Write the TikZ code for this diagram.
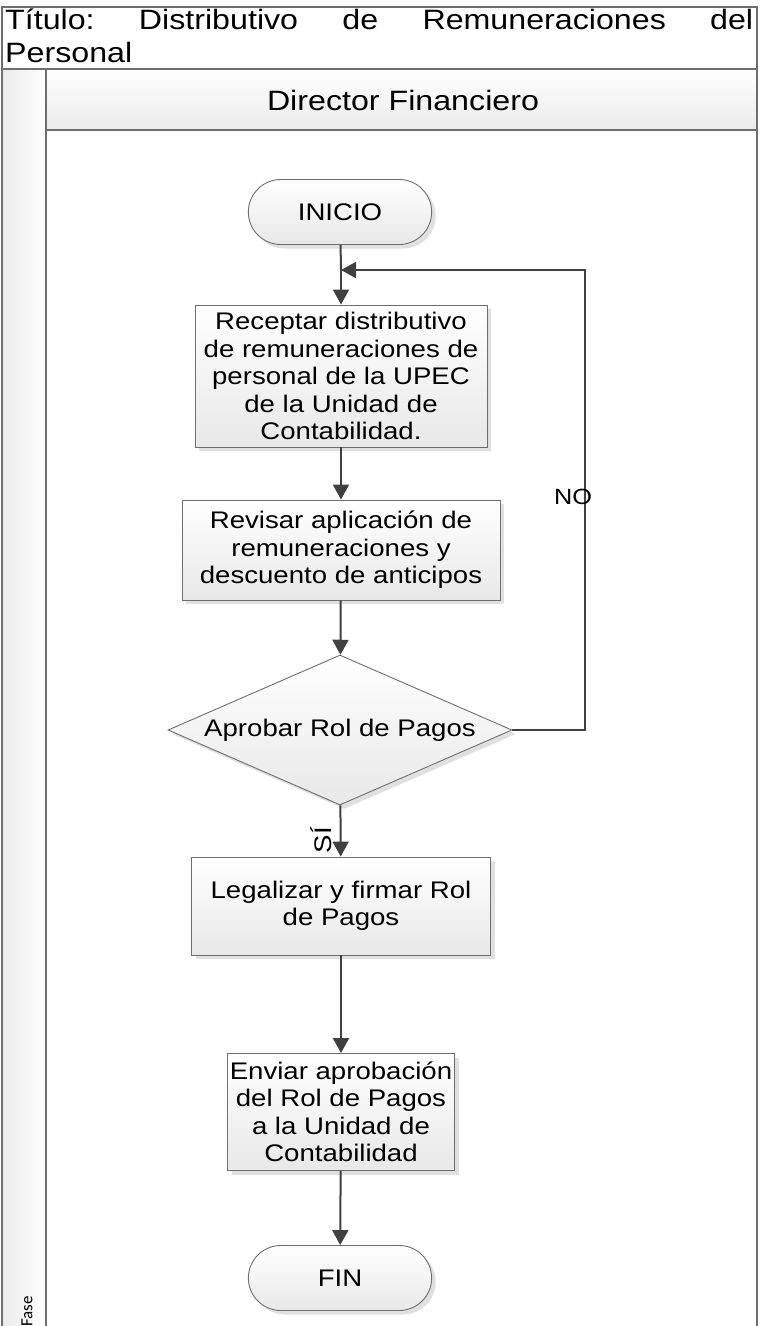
\documentclass[tikz,border=0pt]{standalone}
\usepackage{fontspec}
\setmainfont{Liberation Sans}[FakeStretch=1.15]
\newfontfamily\fasefont{Carlito}
\usetikzlibrary{shapes.geometric,shapes.misc,arrows.meta,shadows}
\definecolor{lineclr}{HTML}{404040}
\definecolor{edgeclr}{HTML}{6E6E6E}
\begin{document}
\begin{tikzpicture}[x=1pt,y=-1pt,
  every node/.style={font=\fontsize{24}{27.5}\selectfont},
  boxshade/.style={shading=axis, top color=white, bottom color=black!9, shading angle=0},
  boxshadow/.style={drop shadow={shadow xshift=4pt, shadow yshift=-4pt, fill=black!30, opacity=.4}},
  stepbox/.style={draw=edgeclr, line width=0.9pt, rectangle, boxshade, boxshadow, align=center, inner sep=2pt},
  term/.style={draw=edgeclr, line width=0.9pt, rounded rectangle, boxshade, boxshadow,
    minimum width=190pt, minimum height=65pt},
  decision/.style={draw=edgeclr, line width=0.9pt, diamond, boxshade, boxshadow,
    minimum width=344pt, minimum height=150pt, inner sep=0pt, aspect=2.3},
  arr/.style={draw=lineclr, line width=2pt, -{Triangle[length=15pt,width=16pt]}},
  lbl/.style={font=\fontsize{22}{26}\selectfont, text=black}
]
\useasboundingbox (0,0) rectangle (760,1326);

% swimlane frame
\fill[white] (2,7) rectangle (757,1326);
\shade[top color=white, bottom color=black!8] (46,69) rectangle (757,130);
\shade[left color=black!8, right color=white] (2,69) rectangle (46,1326);
\draw[edgeclr, line width=1.2pt] (2,1330) -- (2,7) -- (757,7) -- (757,1330);
\draw[edgeclr, line width=1.2pt] (2,69) -- (757,69);
\draw[edgeclr, line width=1.2pt] (46,130) -- (757,130);
\draw[edgeclr, line width=1.2pt] (46,69) -- (46,1330);

\node[anchor=north west, inner sep=0pt, text width=748pt, align=left,
  font=\fontsize{28}{33}\selectfont] (title) at (5,9)
  {Título:\hfill Distributivo\hfill de\hfill Remuneraciones\hfill del\\Personal};
\node[font=\fontsize{28}{32}\selectfont] (lane) at (403,100) {Director Financiero};
\node[font=\fasefont\fontsize{17}{19}\selectfont, rotate=90, anchor=west, inner sep=0pt] (fase) at (27,1327) {Fase};

% flowchart steps
\node[term] (start) at (340,212) {INICIO};
\node[stepbox, minimum width=292pt, minimum height=142pt] (s1) at (341,376)
  {Receptar distributivo\\de remuneraciones de\\personal de la UPEC\\de la Unidad de\\Contabilidad.};
\node[stepbox, minimum width=318pt, minimum height=100pt] (s2) at (341,550)
  {Revisar aplicación de\\remuneraciones y\\descuento de anticipos};
\node[decision] (d) at (340,730) {Aprobar Rol de Pagos};
\node[stepbox, minimum width=299pt, minimum height=98pt] (s3) at (341,906)
  {Legalizar y firmar Rol\\de Pagos};
\node[stepbox, minimum width=227pt, minimum height=117pt] (s4) at (341,1112)
  {Enviar aprobación\\del Rol de Pagos\\a la Unidad de\\Contabilidad};
\node[term] (end) at (340,1278) {FIN};

% connectors
\coordinate (join) at (341,270);
\coordinate (loopcorner) at (585,270);
\draw[draw=lineclr, line width=2pt] (start) -- (join);
\draw[arr] (join) -- (s1);
\draw[arr] (d.east) -| (loopcorner) -- (join);
\node[lbl] (no) at (573,497) {NO};
\draw[arr] (s1) -- (s2);
\draw[arr] (s2) -- (d);
\draw[arr] (d) -- (s3);
\node[lbl, font=\fontsize{24}{28}\selectfont, rotate=90] (si) at (321,840) {SÍ};
\draw[arr] (s3) -- (s4);
\draw[arr] (s4) -- (end);
\end{tikzpicture}
\end{document}
